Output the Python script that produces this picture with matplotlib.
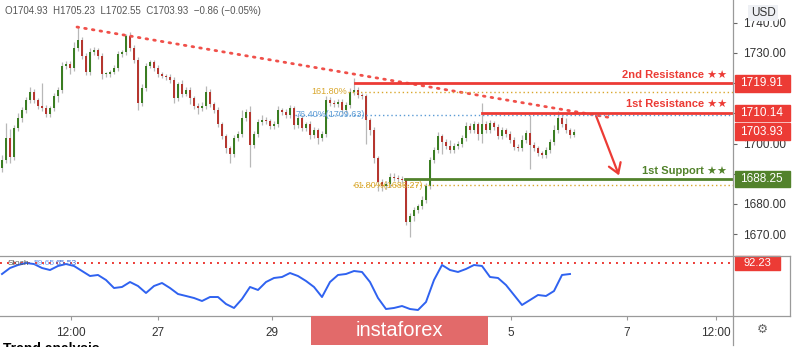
import matplotlib.pyplot as plt
from matplotlib.patches import Rectangle
from matplotlib.lines import Line2D

plt.rcParams['font.family'] = ['Liberation Sans', 'DejaVu Sans']

# candle data (close price per bar, open = previous close)
first_open = 1692.0
closes = [1694.6, 1701.9, 1695.6, 1705.2, 1708.5, 1711.1, 1714.4, 1717.1, 1714.4, 1712.5, 1711.8, 1709.8,
          1711.8, 1715.8, 1717.8, 1725.7, 1726.4, 1725.0, 1731.7, 1734.3, 1729.0, 1723.7, 1730.3, 1731.0,
          1729.0, 1723.0, 1723.0, 1723.7, 1725.0, 1729.7, 1730.3, 1735.6, 1731.7, 1727.7, 1713.4, 1718.4,
          1725.7, 1727.0, 1725.0, 1723.0, 1722.4, 1722.0, 1721.1, 1715.1, 1719.7, 1716.4, 1717.8, 1715.1,
          1712.5, 1711.8, 1712.5, 1717.1, 1713.1, 1711.1, 1706.5, 1702.5, 1698.5, 1696.6, 1701.9, 1703.2,
          1708.5, 1710.5, 1699.6, 1703.2, 1707.2, 1707.8, 1707.4, 1705.8, 1706.5, 1711.1, 1710.5, 1709.5,
          1711.8, 1706.2, 1708.5, 1705.2, 1706.5, 1702.9, 1704.5, 1701.9, 1703.2, 1714.4, 1713.4, 1713.1,
          1713.8, 1711.1, 1712.8, 1717.1, 1717.8, 1716.1, 1715.8, 1707.8, 1704.5, 1695.2, 1687.3, 1685.9,
          1686.6, 1688.9, 1688.6, 1688.4, 1687.9, 1674.0, 1676.0, 1678.0, 1679.3, 1681.3, 1685.9, 1694.6,
          1697.9, 1702.5, 1700.5, 1699.2, 1697.9, 1699.2, 1699.9, 1701.9, 1705.8, 1704.5, 1706.5, 1703.2,
          1706.5, 1704.5, 1706.8, 1705.5, 1702.5, 1704.5, 1703.2, 1701.2, 1698.9, 1698.5, 1701.2, 1703.5,
          1699.6, 1698.5, 1696.9, 1696.2, 1697.9, 1700.5, 1704.5, 1708.5, 1706.5, 1704.5, 1702.9, 1703.93]
up_wick = [1.5, 5.0, 3.0, 1.0, 1.5, 1.0, 1.0, 1.5, 1.0, 0.8, 7.5, 1.0,
           0.8, 1.0, 1.0, 1.2, 0.8, 1.0, 2.0, 4.3, 1.0, 1.0, 1.5, 1.0,
           0.8, 1.0, 0.8, 0.6, 1.0, 1.0, 0.8, 0.8, 1.5, 1.0, 1.0, 1.2,
           1.0, 0.8, 0.6, 1.0, 0.8, 0.8, 1.0, 1.0, 0.8, 1.5, 1.0, 0.8,
           0.8, 1.0, 1.2, 2.0, 1.0, 0.8, 1.0, 0.8, 0.6, 0.8, 1.0, 1.0,
           2.5, 1.0, 2.0, 1.0, 1.0, 1.5, 1.0, 0.8, 1.0, 1.5, 0.8, 1.0,
           1.0, 0.8, 1.0, 1.0, 0.8, 1.0, 1.0, 0.8, 1.0, 1.5, 1.0, 1.0,
           0.8, 1.0, 1.0, 1.2, 4.0, 1.0, 0.8, 0.6, 0.8, 1.0, 0.8, 1.0,
           1.0, 1.5, 1.2, 1.0, 1.0, 0.8, 1.0, 1.0, 0.8, 1.2, 1.0, 1.0,
           1.0, 1.5, 0.8, 1.0, 2.0, 1.0, 0.8, 1.0, 1.5, 1.0, 1.0, 0.8,
           7.0, 1.0, 1.0, 0.8, 1.0, 1.0, 0.8, 1.0, 1.0, 0.8, 1.5, 1.0,
           6.0, 1.0, 0.8, 0.8, 1.0, 1.0, 1.5, 2.2, 1.0, 2.0, 0.8, 1.0]
dn_wick = [1.5, 1.0, 2.0, 1.0, 1.0, 1.5, 1.0, 1.0, 1.0, 1.0, 1.0, 1.0,
           1.0, 1.0, 2.0, 1.0, 1.0, 2.0, 0.8, 1.0, 1.0, 1.0, 1.0, 0.8,
           1.0, 1.5, 1.0, 1.0, 0.8, 1.0, 1.0, 1.0, 1.0, 1.0, 2.3, 1.0,
           1.0, 0.8, 1.0, 1.0, 0.8, 1.0, 1.0, 1.5, 1.0, 1.0, 0.8, 2.0,
           1.0, 2.0, 1.0, 1.0, 1.0, 1.0, 1.0, 1.0, 1.5, 3.0, 1.0, 1.0,
           1.0, 1.0, 7.5, 1.0, 1.0, 1.0, 0.8, 1.0, 1.0, 1.0, 1.0, 1.0,
           1.0, 1.5, 1.0, 1.0, 1.0, 1.5, 1.0, 2.0, 1.0, 1.0, 1.0, 1.0,
           1.0, 1.0, 1.0, 1.0, 1.0, 1.0, 1.0, 8.0, 1.5, 1.5, 3.0, 1.5,
           1.0, 1.0, 1.0, 1.0, 1.0, 1.0, 5.0, 1.5, 1.0, 1.0, 1.0, 1.0,
           1.0, 1.0, 4.0, 1.0, 1.0, 1.0, 1.0, 1.0, 1.0, 1.0, 1.0, 2.0,
           3.0, 1.0, 1.0, 1.0, 1.0, 1.0, 1.0, 1.0, 1.0, 1.0, 1.0, 1.0,
           8.0, 1.0, 1.0, 1.0, 1.0, 1.0, 1.0, 1.0, 1.0, 1.0, 1.0, 0.8]

# stochastic %K, one value every 2 bars
stoch = [72.0, 83.0, 88.5, 92.2, 90.3, 83.0, 79.3, 86.7, 90.3, 86.7, 77.5, 68.3,
         70.2, 61.0, 46.3, 48.2, 57.3, 50.0, 37.2, 50.0, 55.5, 46.3, 35.3, 31.7,
         28.0, 22.5, 29.8, 29.8, 17.0, 9.7, 26.2, 48.2, 42.7, 57.3, 64.7, 66.5,
         73.8, 68.3, 59.2, 48.2, 29.8, 57.3, 70.2, 72.0, 77.5, 75.7, 57.3, 28.0,
         7.8, 9.7, 13.3, 7.8, 6.0, 20.7, 61.0, 88.5, 79.3, 75.7, 81.2, 88.5,
         86.7, 66.5, 64.7, 51.8, 33.5, 15.2, 24.3, 33.5, 31.7, 40.8, 70.2, 72.0]

price_ticks = [1670, 1680, 1690, 1700, 1710, 1720, 1730, 1740]
price_labels = ['1670.00', '1680.00', '', '1700.00', '', '', '1730.00', '1740.00']
date_pos = [17.25, 39, 67.5, 127.25, 156.25, 178.5]
date_labels = ['12:00', '27', '29', '5', '7', '12:00']

res2, res1, sup1, last_price = 1719.91, 1710.14, 1688.25, 1703.93
fib1618, fib764, fib618 = 1717.1, 1709.63, 1686.27
stoch_level = 92.23
trend_x, trend_y = [18.75, 152.5], [1738.6, 1708.5]

RED = '#ec3b35'
GREEN = '#52822b'
GOLD = '#d9a72c'
BLUE = '#5b9bd5'

fig = plt.figure(figsize=(8, 3.47), dpi=100)
ax = fig.add_axes([0, 92 / 347, 733 / 800, 255 / 347])
ax2 = fig.add_axes([0, 31 / 347, 733 / 800, 60 / 347], sharex=ax)

# candles
opens = [first_open] + closes[:-1]
for i, (o, c) in enumerate(zip(opens, closes)):
    hi = max(o, c) + up_wick[i]
    lo = min(o, c) - dn_wick[i]
    ax.vlines(i, lo, hi, color='#b8b8b8', lw=0.9, zorder=2)
    col = '#3a7d22' if c >= o else '#b5362f'
    ax.bar(i, max(abs(c - o), 0.35), bottom=min(o, c), width=0.6, color=col, zorder=3)

# trend line
ax.plot(trend_x, trend_y, color='#f0504a', lw=2, ls=(0, (0.6, 2.2)), dash_capstyle='round', zorder=4)

# fib levels
xr = 183
ax.plot([86.5, xr], [fib1618, fib1618], color=GOLD, lw=1, ls=(0, (1, 2)), zorder=4)
ax.plot([73.25, xr], [fib764, fib764], color=BLUE, lw=1, ls=(0, (1, 2)), zorder=4)
ax.plot([87.75, xr], [fib618, fib618], color=GOLD, lw=1, ls=(0, (1, 2)), zorder=4)
ax.text(86.3, fib1618, '161.80%', color=GOLD, fontsize=6.5, ha='right', va='center', zorder=6)
ax.text(73.4, fib764, '76.40%(1709.63)', color=BLUE, fontsize=6.5, ha='left', va='center', zorder=6)
ax.text(88.0, fib618, '61.80%(1686.27)', color=GOLD, fontsize=6.5, ha='left', va='center', zorder=6)

# support / resistance
ax.plot([88.25, xr], [res2, res2], color=RED, lw=2, zorder=5)
ax.plot([120, xr], [res1, res1], color=RED, lw=2, zorder=5)
ax.plot([100.75, xr], [sup1, sup1], color=GREEN, lw=2, zorder=5)

yt = ax.get_yaxis_transform()
ax.text(0.992, 1722.7, '2nd Resistance ★★', transform=yt, color=RED, fontsize=8,
        fontweight='bold', ha='right', va='center')
ax.text(0.992, 1713.1, '1st Resistance ★★', transform=yt, color=RED, fontsize=8,
        fontweight='bold', ha='right', va='center')
ax.text(0.992, 1690.9, '1st Support ★★', transform=yt, color=GREEN, fontsize=8,
        fontweight='bold', ha='right', va='center')

ax.annotate('', xy=(154.5, 1688.6), xytext=(148.25, 1710.1),
            arrowprops=dict(arrowstyle='->,head_length=0.7,head_width=0.45', color=RED, lw=1.6))

ax.set_xlim(-0.5, 182.75)
ax.set_ylim(1663.1, 1747.55)
ax.yaxis.tick_right()
ax.set_yticks(price_ticks)
ax.set_yticklabels(price_labels)
ax.tick_params(axis='y', labelsize=8.5, labelcolor='#333333', color='#666666', length=3, pad=4)
ax.tick_params(axis='x', bottom=False, labelbottom=False)
for s in ax.spines.values():
    s.set_visible(False)

# price boxes
for val, col in [(res2, RED), (res1, RED), (last_price, RED), (sup1, GREEN)]:
    ax.add_patch(Rectangle((1.0025, val - 2.75), 0.075, 5.5, transform=yt, color=col,
                           clip_on=False, zorder=8))
    ax.text(1.039, val, '%.2f' % val, transform=yt, color='white', fontsize=8.5,
            ha='center', va='center', zorder=9, clip_on=False)

# stochastic panel
ax2.plot(range(0, len(stoch) * 2, 2), stoch, color='#2f62f0', lw=1.4, zorder=3)
ax2.axhline(stoch_level, color=RED, lw=1.4, ls=(0, (1, 2.6)), zorder=2)
ax2.set_ylim(-5, 105)
ax2.set_yticks([])
yt2 = ax2.get_yaxis_transform()
ax2.add_patch(Rectangle((1.0025, stoch_level - 13.5), 0.061, 27, transform=yt2, color=RED,
                        clip_on=False, zorder=8))
ax2.text(1.033, stoch_level, '%.2f' % stoch_level, transform=yt2, color='white', fontsize=8,
         ha='center', va='center', zorder=9, clip_on=False)
ax2.text(1.5, 91, 'Stoch', color='#555555', fontsize=6, va='center')
ax2.text(8.0, 91, '59.65', color='#6a9cf0', fontsize=6, va='center')
ax2.text(13.5, 91, '65.53', color='#3f6fd8', fontsize=6, va='center')
ax2.set_xticks(date_pos)
ax2.set_xticklabels(date_labels)
ax2.tick_params(axis='x', labelsize=8.5, labelcolor='#333333', color='#999999', length=3, pad=5)
for s in ax2.spines.values():
    s.set_visible(False)

# frame lines
H = 347.0
for (x0, y0, x1, y1) in [(733, 0, 733, 345), (0, 255.5, 790, 255.5), (0, 316, 790, 316),
                         (790, 255.5, 790, 316)]:
    fig.add_artist(Line2D([x0 / 800, x1 / 800], [1 - y0 / H, 1 - y1 / H], color='#9a9a9a', lw=0.9))

fig.text(5 / 800, 1 - 11 / H, 'O1704.93  H1705.23  L1702.55  C1703.93  \u22120.86 (\u22120.05%)',
         fontsize=7, color='#555555', va='center')

fig.patches.append(Rectangle((748 / 800, 1 - 21 / H), 30 / 800, 16 / H, transform=fig.transFigure,
                             facecolor='#eef0f4', edgecolor='none', zorder=5))
fig.text(763 / 800, 1 - 13 / H, 'USD', fontsize=8.5, color='#333333', ha='center', va='center', zorder=6)
fig.text(762 / 800, 1 - 329 / H, '\u2699', fontsize=9, color='#666666', ha='center', va='center',
         family='DejaVu Sans')

# watermark
fig.patches.append(Rectangle((311 / 800, 1 - 345 / H), 177 / 800, 29 / H, transform=fig.transFigure,
                             facecolor='#e26a6a', edgecolor='none', zorder=5))
fig.text(399.5 / 800, 1 - 331 / H, 'instaforex', fontsize=14.5, color='white', ha='center',
         va='center', zorder=6)

fig.text(3 / 800, 1 - 342 / H, 'Trend analysis', fontsize=10, fontweight='bold', color='black',
         va='top')

fig.savefig('out.png', dpi=100)
